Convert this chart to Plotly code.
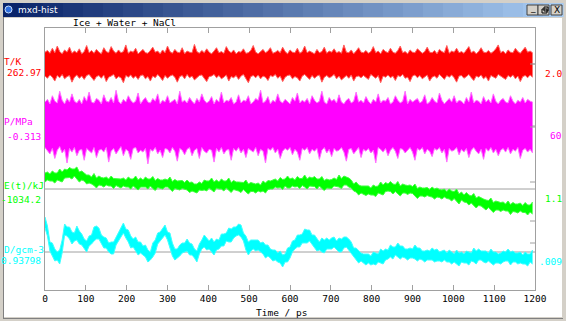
import plotly.graph_objects as go

# ---------------- data ----------------
# each series is given as the upper / lower envelope of the trace in 6 ps bins
time_ps = [6 * i for i in range(200)]

T_max = [
    265.1, 265.4, 264.9, 265.8, 265.0, 266.2, 265.2, 264.8, 265.5, 265.1,
    266.0, 264.9, 265.3, 265.0, 265.7, 264.8, 265.2, 266.3, 265.0, 265.4,
    264.9, 265.6, 265.1, 264.8, 265.9, 265.2, 265.0, 266.1, 265.3, 264.9,
    265.5, 265.0, 265.2, 266.4, 264.9, 265.3, 265.1, 265.8, 264.8, 265.2,
    265.6, 265.0, 264.9, 265.4, 266.0, 265.1, 265.3, 264.8, 265.5, 265.0,
    266.2, 265.2, 264.9, 265.6, 265.1, 265.0, 265.9, 264.8, 265.3, 265.1,
    265.0, 266.5, 265.2, 264.9, 265.4, 265.0, 265.7, 265.1, 264.8, 265.3,
    265.9, 265.0, 265.2, 264.9, 266.1, 265.3, 265.0, 265.5, 264.8, 265.2,
    265.1, 265.7, 264.9, 265.0, 265.4, 266.3, 265.1, 264.8, 265.2, 265.6,
    265.0, 265.3, 265.9, 264.9, 265.1, 265.4, 265.0, 266.0, 265.2, 264.8,
    265.5, 265.1, 265.0, 265.8, 264.9, 265.2, 266.2, 265.0, 265.3, 265.1,
    264.8, 265.6, 265.0, 265.2, 266.0, 264.9, 265.3, 265.1, 265.7, 265.0,
    265.2, 264.9, 266.4, 265.1, 265.0, 265.5, 264.8, 265.3, 265.9, 265.1,
    265.0, 265.4, 264.9, 265.2, 266.1, 265.0, 265.3, 264.8, 265.6, 265.2,
    265.0, 265.8, 265.1, 264.9, 265.4, 266.2, 265.0, 265.2, 264.8, 265.5,
    265.1, 265.0, 265.7, 265.3, 264.9, 265.2, 266.0, 265.1, 265.0, 265.4,
    264.8, 265.6, 265.2, 265.0, 266.3, 264.9, 265.3, 265.1, 265.8, 265.0,
    265.2, 264.9, 265.5, 266.1, 265.0, 265.3, 264.8, 265.2, 265.9, 265.1,
    265.0, 265.4, 264.9, 265.2, 265.7, 266.4, 265.0, 265.3, 264.8, 265.5,
    265.1, 265.0, 265.8, 265.2, 264.9, 265.4, 266.0, 265.1, 265.3, 265.0,
]
T_min = [
    260.8, 260.4, 261.0, 260.6, 259.9, 260.9, 260.5, 261.1, 260.3, 260.7,
    260.9, 259.7, 260.6, 261.0, 260.4, 260.8, 260.2, 260.9, 261.1, 260.5,
    260.0, 260.7, 260.9, 260.4, 261.0, 259.8, 260.6, 260.8, 261.1, 260.3,
    260.7, 260.5, 259.6, 260.9, 260.6, 261.0, 260.4, 260.8, 260.2, 260.9,
    261.0, 260.3, 260.7, 259.9, 260.8, 260.5, 261.1, 260.6, 260.0, 260.9,
    260.4, 260.8, 261.0, 260.6, 259.7, 260.7, 260.9, 260.3, 261.1, 260.5,
    260.8, 260.1, 260.6, 260.9, 261.0, 260.4, 259.8, 260.7, 260.8, 261.1,
    260.5, 260.9, 260.3, 260.6, 261.0, 259.9, 260.7, 260.5, 260.9, 260.2,
    260.8, 261.1, 260.4, 259.6, 260.7, 260.9, 260.5, 261.0, 260.3, 260.8,
    260.6, 260.0, 260.9, 260.7, 261.1, 260.4, 260.8, 259.8, 260.6, 260.9,
    261.0, 260.3, 260.7, 260.5, 259.9, 260.8, 261.1, 260.6, 260.2, 260.9,
    260.4, 260.8, 261.0, 259.7, 260.6, 260.9, 260.5, 260.7, 261.1, 260.3,
    260.8, 260.1, 260.6, 260.9, 260.4, 261.0, 259.9, 260.7, 260.8, 260.5,
    260.9, 260.6, 260.2, 261.1, 260.7, 260.4, 260.9, 259.6, 260.8, 260.6,
    261.0, 260.5, 260.8, 260.0, 260.9, 260.7, 261.1, 260.4, 260.6, 259.8,
    260.8, 261.0, 260.5, 260.9, 260.3, 260.7, 261.0, 259.9, 260.6, 260.8,
    260.4, 261.1, 260.7, 260.2, 260.9, 260.6, 261.0, 260.5, 259.7, 260.8,
    260.9, 260.4, 260.7, 261.1, 260.5, 260.0, 260.8, 260.6, 261.0, 260.3,
    260.7, 259.9, 260.9, 260.6, 260.4, 261.1, 260.8, 260.5, 260.2, 260.9,
    260.6, 261.0, 260.3, 260.8, 259.8, 260.7, 260.9, 260.5, 261.0, 260.6,
]

P_max = [
    26, 29, 24, 33, 27, 25, 38, 28, 24, 30,
    26, 35, 27, 25, 29, 24, 32, 27, 37, 26,
    25, 30, 28, 24, 34, 27, 26, 31, 25, 39,
    27, 24, 29, 26, 33, 28, 25, 27, 36, 24,
    28, 31, 26, 25, 30, 27, 35, 24, 28, 26,
    33, 25, 27, 29, 24, 38, 26, 28, 25, 31,
    27, 24, 30, 26, 35, 28, 25, 27, 32, 24,
    29, 26, 37, 25, 28, 27, 31, 24, 26, 34,
    25, 28, 27, 33, 24, 26, 30, 28, 39, 25,
    27, 32, 24, 28, 26, 35, 27, 25, 29, 26,
    24, 31, 27, 36, 25, 28, 26, 30, 24, 33,
    28, 25, 27, 38, 26, 24, 31, 27, 29, 25,
    34, 26, 24, 28, 30, 25, 27, 37, 26, 28,
    25, 32, 27, 24, 29, 26, 35, 25, 28, 27,
    31, 24, 26, 33, 28, 25, 27, 38, 24, 29,
    26, 28, 30, 25, 27, 34, 24, 26, 31, 27,
    25, 36, 28, 24, 27, 30, 26, 33, 25, 28,
    27, 24, 31, 26, 37, 25, 28, 27, 24, 32,
    26, 29, 25, 35, 27, 24, 28, 30, 26, 25,
    33, 27, 24, 28, 26, 31, 25, 29, 27, 26,
]
P_min = [
    -24, -28, -31, -25, -36, -27, -23, -30, -26, -41,
    -25, -29, -24, -33, -27, -26, -38, -25, -28, -30,
    -24, -35, -27, -26, -29, -24, -40, -28, -25, -31,
    -27, -23, -33, -26, -28, -37, -25, -24, -30, -27,
    -29, -25, -42, -26, -28, -24, -31, -27, -35, -25,
    -26, -30, -24, -28, -39, -25, -27, -32, -26, -24,
    -33, -27, -25, -36, -24, -28, -30, -26, -27, -40,
    -25, -29, -24, -31, -27, -26, -38, -25, -28, -24,
    -30, -26, -35, -25, -27, -29, -24, -33, -26, -28,
    -41, -25, -27, -24, -30, -26, -36, -28, -25, -27,
    -24, -32, -26, -29, -38, -25, -27, -24, -31, -26,
    -28, -25, -37, -27, -24, -30, -26, -34, -25, -28,
    -27, -24, -29, -39, -26, -25, -31, -27, -24, -35,
    -26, -28, -25, -30, -27, -41, -24, -26, -29, -25,
    -33, -27, -24, -28, -36, -25, -26, -30, -27, -24,
    -29, -38, -25, -27, -24, -31, -26, -28, -34, -25,
    -27, -24, -30, -26, -40, -25, -28, -27, -24, -32,
    -26, -29, -25, -35, -27, -24, -28, -31, -26, -37,
    -25, -28, -24, -30, -26, -33, -27, -25, -29, -24,
    -31, -26, -28, -24, -36, -27, -25, -29, -26, -30,
]

E_max = [
    -1032.6, -1032.5, -1032.7, -1032.4, -1032.6, -1032.6, -1032.2, -1032.5, -1032.2, -1032.3,
    -1032.05, -1032.2, -1032.2, -1032.0, -1032.5, -1032.4, -1032.6, -1032.8, -1032.8, -1033.0,
    -1032.65, -1033.1, -1032.9, -1033.05, -1033.1, -1033.0, -1033.2, -1032.9, -1033.15, -1033.15,
    -1033.2, -1033.2, -1033.1, -1033.3, -1033.0, -1033.2, -1033.2, -1032.9, -1033.3, -1033.1,
    -1033.3, -1033.0, -1033.2, -1033.2, -1032.95, -1033.35, -1033.15, -1033.3, -1033.3, -1033.2,
    -1033.3, -1033.0, -1033.45, -1033.25, -1033.4, -1033.4, -1033.35, -1033.55, -1033.3, -1033.55,
    -1033.5, -1033.7, -1033.7, -1033.5, -1033.65, -1033.3, -1033.4, -1033.4, -1033.1, -1033.5,
    -1033.3, -1033.5, -1033.2, -1033.4, -1033.4, -1033.1, -1033.55, -1033.35, -1033.5, -1033.5,
    -1033.55, -1033.55, -1033.3, -1033.7, -1033.55, -1033.65, -1033.7, -1033.6, -1033.8, -1033.4,
    -1033.6, -1033.35, -1033.4, -1033.3, -1033.2, -1033.4, -1033.05, -1033.25, -1033.2, -1032.9,
    -1033.2, -1033.1, -1033.3, -1032.95, -1033.15, -1033.15, -1032.8, -1033.2, -1033.0, -1033.1,
    -1032.95, -1033.2, -1033.2, -1032.95, -1033.35, -1033.2, -1033.3, -1033.25, -1033.1, -1033.25,
    -1032.8, -1033.15, -1032.9, -1033.0, -1033.1, -1033.3, -1033.7, -1033.5, -1033.8, -1033.9,
    -1033.9, -1033.95, -1033.9, -1034.1, -1033.8, -1033.95, -1033.9, -1033.5, -1033.8, -1033.55,
    -1033.7, -1033.45, -1033.7, -1033.75, -1033.45, -1033.9, -1033.7, -1033.8, -1033.85, -1033.8,
    -1033.95, -1033.7, -1034.15, -1034.0, -1034.1, -1034.1, -1034.05, -1034.25, -1034.0, -1034.2,
    -1034.1, -1034.25, -1034.3, -1034.2, -1034.45, -1034.2, -1034.4, -1034.45, -1034.2, -1034.7,
    -1034.5, -1034.8, -1034.55, -1034.8, -1034.9, -1034.65, -1035.1, -1034.95, -1035.1, -1035.2,
    -1035.3, -1035.35, -1035.1, -1035.55, -1035.4, -1035.5, -1035.55, -1035.5, -1035.7, -1035.4,
    -1035.75, -1035.55, -1035.7, -1035.7, -1035.6, -1035.85, -1035.55, -1035.8, -1035.8, -1035.5,
]
E_min = [
    -1033.5, -1033.3, -1033.4, -1033.4, -1033.6, -1033.3, -1033.4, -1033.5, -1033.1, -1033.1,
    -1033.05, -1033.2, -1032.9, -1033.2, -1033.5, -1033.3, -1033.4, -1033.7, -1033.6, -1033.7,
    -1033.85, -1034.1, -1033.8, -1033.85, -1034.0, -1033.8, -1033.9, -1033.9, -1034.15, -1033.85,
    -1034.0, -1034.1, -1033.9, -1034.0, -1034.0, -1034.2, -1033.9, -1034.1, -1034.3, -1034.0,
    -1034.0, -1034.0, -1034.2, -1033.9, -1034.15, -1034.35, -1034.05, -1034.1, -1034.2, -1034.0,
    -1034.0, -1034.2, -1034.45, -1034.15, -1034.2, -1034.3, -1034.15, -1034.25, -1034.3, -1034.55,
    -1034.4, -1034.5, -1034.6, -1034.3, -1034.35, -1034.3, -1034.4, -1034.1, -1034.3, -1034.5,
    -1034.1, -1034.2, -1034.2, -1034.4, -1034.1, -1034.3, -1034.55, -1034.25, -1034.3, -1034.4,
    -1034.55, -1034.25, -1034.5, -1034.7, -1034.45, -1034.45, -1034.6, -1034.4, -1034.5, -1034.4,
    -1034.6, -1034.25, -1034.2, -1034.2, -1034.0, -1034.1, -1034.05, -1034.25, -1033.9, -1034.1,
    -1034.1, -1033.9, -1034.0, -1033.95, -1034.15, -1033.85, -1034.0, -1034.2, -1033.9, -1033.9,
    -1033.95, -1034.2, -1033.9, -1034.15, -1034.35, -1034.1, -1034.1, -1034.15, -1033.9, -1033.95,
    -1034.0, -1034.15, -1033.8, -1033.8, -1034.0, -1034.1, -1034.4, -1034.5, -1034.8, -1034.6,
    -1034.7, -1034.85, -1034.7, -1034.8, -1034.8, -1034.95, -1034.6, -1034.7, -1034.8, -1034.45,
    -1034.4, -1034.45, -1034.7, -1034.45, -1034.65, -1034.9, -1034.6, -1034.6, -1034.75, -1034.6,
    -1034.65, -1034.9, -1035.15, -1034.9, -1034.9, -1035.0, -1034.85, -1034.95, -1035.0, -1035.2,
    -1035.0, -1035.05, -1035.2, -1035.0, -1035.15, -1035.2, -1035.4, -1035.15, -1035.4, -1035.7,
    -1035.3, -1035.5, -1035.55, -1035.8, -1035.6, -1035.85, -1036.1, -1035.85, -1035.9, -1036.1,
    -1036.3, -1036.05, -1036.3, -1036.55, -1036.3, -1036.3, -1036.45, -1036.3, -1036.4, -1036.4,
    -1036.75, -1036.45, -1036.5, -1036.6, -1036.4, -1036.55, -1036.55, -1036.8, -1036.5, -1036.7,
]

D_max = [
    0.94148, 0.94058, 0.93898, 0.93888, 0.93828, 0.93798, 0.93818, 0.93918, 0.94078, 0.94048,
    0.94048, 0.93998, 0.93988, 0.94058, 0.94008, 0.93978, 0.93928, 0.93908, 0.93958, 0.93968,
    0.94048, 0.94058, 0.94038, 0.93968, 0.93948, 0.93938, 0.93888, 0.93898, 0.93898, 0.93948,
    0.93998, 0.94048, 0.94088, 0.94028, 0.94018, 0.93958, 0.93928, 0.93948, 0.93898, 0.93898,
    0.93858, 0.93868, 0.93818, 0.93798, 0.93888, 0.93918, 0.93988, 0.93998, 0.94038, 0.94068,
    0.93998, 0.93988, 0.93888, 0.93828, 0.93828, 0.93868, 0.93888, 0.93888, 0.93928, 0.93888,
    0.93878, 0.93828, 0.93808, 0.93878, 0.93918, 0.93968, 0.93938, 0.93908, 0.93938, 0.93898,
    0.93928, 0.93918, 0.93978, 0.93978, 0.93988, 0.94038, 0.94028, 0.94048, 0.94048, 0.94078,
    0.94068, 0.93988, 0.93958, 0.93898, 0.93918, 0.93918, 0.93918, 0.93918, 0.93888, 0.93898,
    0.93868, 0.93868, 0.93828, 0.93818, 0.93818, 0.93788, 0.93808, 0.93768, 0.93778, 0.93838,
    0.93848, 0.93908, 0.93918, 0.93968, 0.93968, 0.93978, 0.94028, 0.94018, 0.94018, 0.93968,
    0.93968, 0.93928, 0.93898, 0.93938, 0.93918, 0.93938, 0.93918, 0.93938, 0.93948, 0.93908,
    0.93938, 0.93928, 0.93948, 0.93948, 0.93928, 0.93898, 0.93838, 0.93838, 0.93808, 0.93788,
    0.93778, 0.93778, 0.93778, 0.93758, 0.93798, 0.93788, 0.93778, 0.93828, 0.93808, 0.93828,
    0.93818, 0.93868, 0.93848, 0.93848, 0.93888, 0.93858, 0.93858, 0.93828, 0.93828, 0.93838,
    0.93828, 0.93868, 0.93838, 0.93838, 0.93808, 0.93808, 0.93818, 0.93808, 0.93838, 0.93818,
    0.93828, 0.93798, 0.93808, 0.93818, 0.93788, 0.93818, 0.93798, 0.93778, 0.93818, 0.93788,
    0.93798, 0.93778, 0.93808, 0.93798, 0.93788, 0.93838, 0.93808, 0.93828, 0.93808, 0.93808,
    0.93808, 0.93788, 0.93828, 0.93798, 0.93798, 0.93778, 0.93788, 0.93808, 0.93798, 0.93828,
    0.93798, 0.93808, 0.93788, 0.93788, 0.93798, 0.93768, 0.93798, 0.93778, 0.93778, 0.93818,
]
D_min = [
    0.94038, 0.93958, 0.93808, 0.93758, 0.93708, 0.93718, 0.93678, 0.93788, 0.93968, 0.93958,
    0.93928, 0.93878, 0.93908, 0.93918, 0.93878, 0.93868, 0.93838, 0.93798, 0.93858, 0.93878,
    0.93908, 0.93928, 0.93928, 0.93878, 0.93838, 0.93838, 0.93798, 0.93778, 0.93778, 0.93868,
    0.93908, 0.93938, 0.93988, 0.93938, 0.93898, 0.93838, 0.93848, 0.93808, 0.93768, 0.93788,
    0.93768, 0.93748, 0.93698, 0.93718, 0.93748, 0.93788, 0.93878, 0.93908, 0.93928, 0.93968,
    0.93918, 0.93848, 0.93758, 0.93718, 0.93738, 0.93758, 0.93788, 0.93798, 0.93808, 0.93768,
    0.93768, 0.93738, 0.93698, 0.93778, 0.93828, 0.93848, 0.93818, 0.93828, 0.93798, 0.93768,
    0.93818, 0.93828, 0.93858, 0.93858, 0.93908, 0.93898, 0.93898, 0.93938, 0.93958, 0.93968,
    0.93948, 0.93908, 0.93818, 0.93768, 0.93808, 0.93828, 0.93808, 0.93818, 0.93798, 0.93778,
    0.93738, 0.93758, 0.93738, 0.93708, 0.93718, 0.93698, 0.93688, 0.93648, 0.93698, 0.93698,
    0.93738, 0.93798, 0.93828, 0.93848, 0.93848, 0.93888, 0.93888, 0.93888, 0.93908, 0.93878,
    0.93848, 0.93808, 0.93818, 0.93798, 0.93788, 0.93828, 0.93828, 0.93828, 0.93848, 0.93818,
    0.93798, 0.93798, 0.93838, 0.93848, 0.93818, 0.93788, 0.93748, 0.93718, 0.93688, 0.93708,
    0.93688, 0.93668, 0.93688, 0.93668, 0.93678, 0.93668, 0.93698, 0.93688, 0.93678, 0.93718,
    0.93728, 0.93748, 0.93728, 0.93768, 0.93748, 0.93728, 0.93748, 0.93738, 0.93718, 0.93738,
    0.93738, 0.93728, 0.93708, 0.93728, 0.93718, 0.93698, 0.93718, 0.93718, 0.93718, 0.93698,
    0.93708, 0.93708, 0.93698, 0.93718, 0.93698, 0.93698, 0.93678, 0.93698, 0.93678, 0.93658,
    0.93698, 0.93688, 0.93688, 0.93668, 0.93708, 0.93698, 0.93678, 0.93718, 0.93718, 0.93698,
    0.93688, 0.93708, 0.93688, 0.93668, 0.93688, 0.93688, 0.93678, 0.93698, 0.93708, 0.93708,
    0.93668, 0.93698, 0.93698, 0.93678, 0.93688, 0.93678, 0.93678, 0.93658, 0.93698, 0.93678,
]

series_names = ["T/K", "P/MPa", "E(t)/kJ", "D/gcm-3"]
series_means = ["262.97", "-0.313", "-1034.2", "0.93798"]
series_scales = ["2.0", "60", "1.1", ".009"]
series_colors = ["#ff0000", "#ff00ff", "#00ff00", "#00ffff"]
edge_colors = ["#ff6060", "#ff70ff", "#40ff40", "#40ffff"]
baselines = [262.97, -0.313, -1034.2, 0.93798]
x_ticks = [0, 100, 200, 300, 400, 500, 600, 700, 800, 900, 1000, 1100, 1200]
title_text = "Ice + Water + NaCl"
window_title = "mxd-hist"

# ---------------- layout geometry (pixels) ----------------
W, H = 566, 321
L, R, T, B = 45, 535, 28, 290          # plot area edges


def xp(px):
    return (px - L) / (R - L)


def yp(py):
    return (B - py) / (B - T)


def yrange(base, pix, per_px):
    return [base - (B - pix) * per_px, base + (pix - T) * per_px]


base_pix = [64, 126, 189, 252]
per_px = [0.18, 1.1, 0.1, 0.0001]
uppers = [T_max, P_max, E_max, D_max]
lowers = [T_min, P_min, E_min, D_min]

FONT = "DejaVu Sans Mono"
FS = 9.5
GRAY = "#a0a0a0"

fig = go.Figure()
for k in range(4):
    ax = "y" if k == 0 else f"y{k+1}"
    fig.add_trace(go.Scatter(
        x=time_ps, y=lowers[k], mode="lines",
        line=dict(color=edge_colors[k], width=1),
        yaxis=ax, showlegend=False, hoverinfo="skip"))
    fig.add_trace(go.Scatter(
        x=time_ps, y=uppers[k], mode="lines",
        line=dict(color=edge_colors[k], width=1),
        fill="tonexty", fillcolor=series_colors[k],
        yaxis=ax, showlegend=False, hoverinfo="skip"))

layout = dict(
    width=W, height=H,
    margin=dict(l=L, r=W - R, t=T, b=H - B, pad=0),
    paper_bgcolor="white", plot_bgcolor="white",
    showlegend=False,
    xaxis=dict(range=[0, 1200], tickvals=x_ticks, ticks="inside", ticklen=5,
               tickcolor=GRAY, showline=True, linecolor=GRAY, linewidth=1,
               mirror="ticks", showgrid=False, zeroline=False,
               tickfont=dict(family=FONT, size=FS, color="black")),
    yaxis=dict(range=yrange(baselines[0], base_pix[0], per_px[0]),
               showline=True, linecolor=GRAY, mirror=True, showticklabels=False,
               ticks="", showgrid=False, zeroline=False),
)
for k in range(1, 4):
    layout[f"yaxis{k+1}"] = dict(range=yrange(baselines[k], base_pix[k], per_px[k]),
                                 overlaying="y", visible=False)
fig.update_layout(**layout)

shapes = []
for k in range(4):
    shapes.append(dict(type="line", xref="paper", x0=0, x1=1,
                       yref="y" if k == 0 else f"y{k+1}",
                       y0=baselines[k], y1=baselines[k],
                       line=dict(color=GRAY, width=1), layer="below"))
for py in [64, 127, 182, 221, 243]:
    shapes.append(dict(type="line", xref="paper", yref="paper",
                       x0=xp(R - 5), x1=xp(R), y0=yp(py), y1=yp(py),
                       line=dict(color=GRAY, width=1)))

FRAME = "#d4d0c8"


def rect(x0, y0, x1, y1, fill, line=None):
    return dict(type="rect", xref="paper", yref="paper",
                x0=xp(x0), x1=xp(x1), y0=yp(y1), y1=yp(y0),
                fillcolor=fill, line=dict(width=0) if line is None else line)


shapes += [
    rect(0, 0, W, 18, FRAME),
    rect(0, 0, 4, H, FRAME),
    rect(562, 0, W, H, FRAME),
    rect(0, 317, W, H, FRAME),
    rect(3, 318, 563, 319, "#808080"),
    rect(3, 17, 4, 318, "#808080"),
]
c0, c1 = (10, 36, 106), (166, 202, 240)
n = 28
for i in range(n):
    f = i / (n - 1)
    col = "rgb({},{},{})".format(*[int(a + (b - a) * f) for a, b in zip(c0, c1)])
    x0 = 3 + i * 560 / n
    shapes.append(rect(x0, 3, x0 + 560 / n + 0.6, 17, col))
shapes.append(dict(type="circle", xref="paper", yref="paper",
                   x0=xp(5), x1=xp(12), y0=yp(13), y1=yp(6),
                   fillcolor="#2f6fe0", line=dict(color="#c8e0ff", width=1)))
for bx in [527, 538, 551]:
    shapes.append(rect(bx, 5, bx + 11, 15, FRAME, line=dict(color="#404040", width=1)))
shapes.append(rect(542, 9, 547, 13, "rgba(0,0,0,0)", line=dict(color="black", width=1)))
shapes.append(rect(544, 7, 548, 11, "rgba(0,0,0,0)", line=dict(color="black", width=1)))
fig.update_layout(shapes=shapes)

ann = []


def text(s, px, py, color="black", anchor="left", size=FS, family=FONT):
    ann.append(dict(text=s, xref="paper", yref="paper", x=xp(px), y=yp(py),
                    xanchor=anchor, yanchor="middle", showarrow=False,
                    font=dict(family=family, size=size, color=color)))


text(title_text, 71, 22.5)
name_y = [61, 121.5, 185.5, 249]
mean_y = [72.5, 136, 199.5, 260.5]
scale_y = [73, 135.5, 198.5, 261]
for k in range(4):
    text(series_names[k], 2, name_y[k], series_colors[k], "left")
    text(series_means[k], 43, mean_y[k], series_colors[k], "right")
    text(series_scales[k], 564, scale_y[k], series_colors[k], "right")
text("Time / ps", 281, 312, anchor="center")
text(window_title, 16, 10, "white", "left", size=9, family="DejaVu Sans")
text("_", 532.5, 8.5, "black", "center", size=9, family="DejaVu Sans")
text("X", 556.5, 10, "black", "center", size=9, family="DejaVu Sans")
fig.update_layout(annotations=ann)

fig.write_html("out.html", config={"displayModeBar": False},
               post_script="document.body.style.margin='0';")
